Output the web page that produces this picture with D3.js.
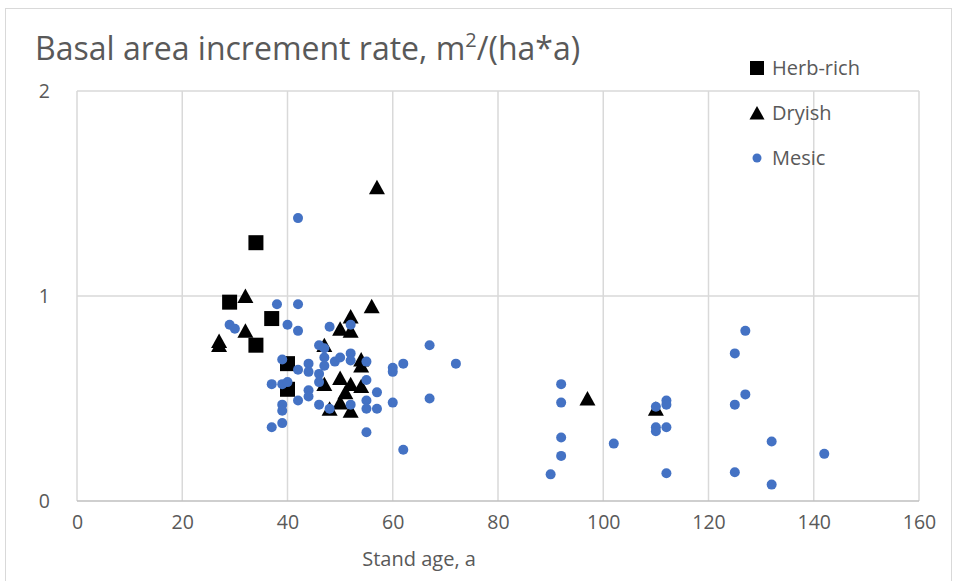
<!DOCTYPE html>
<html>
<head>
<meta charset="utf-8">
<script src="https://cdn.jsdelivr.net/npm/d3@7"></script>
<style>
  body { margin: 0; background: #fff; }
  text { font-family: "Open Sans", sans-serif; fill: #595959; }
</style>
</head>
<body>
<div id="canvas"></div>
<script>
// stand age (a) and basal area increment (m2/(ha*a)) per site type
const herbAge = [29, 34, 37, 34, 40, 40];
const herbRate = [0.97, 1.26, 0.89, 0.76, 0.67, 0.545];

const dryAge = [27, 27, 32, 32, 47, 47, 50, 52, 52, 56, 54, 54, 57, 50, 52, 54, 51, 50, 48, 52, 97, 110];
const dryRate = [0.78, 0.76, 1.00, 0.83, 0.76, 0.57, 0.84, 0.90, 0.83, 0.95, 0.69, 0.66, 1.53, 0.60, 0.57, 0.56, 0.53, 0.48, 0.45, 0.44, 0.50, 0.45];

const mesicAge = [42, 38, 42, 29, 30, 40, 42, 48, 52, 46, 47, 67, 72, 39, 44, 47, 47, 49, 50, 52, 52, 55, 60, 60, 62,
    37, 39, 40, 42, 44, 46, 46, 55, 57, 44, 44, 42, 46, 48, 52, 55, 55, 57, 60, 67, 39, 39, 37, 39, 55, 62,
    92, 92, 92, 92, 90, 102, 110, 112, 112, 110, 110, 112, 112, 127, 125, 127, 125, 132, 125, 132, 142];
const mesicRate = [1.38, 0.96, 0.96, 0.86, 0.84, 0.86, 0.83, 0.85, 0.86, 0.76, 0.745, 0.76, 0.67, 0.69, 0.67, 0.70, 0.66, 0.68, 0.70, 0.72, 0.685, 0.68, 0.65, 0.63, 0.67,
    0.57, 0.57, 0.58, 0.64, 0.63, 0.62, 0.58, 0.59, 0.53, 0.54, 0.51, 0.49, 0.47, 0.45, 0.47, 0.49, 0.45, 0.45, 0.48, 0.50, 0.47, 0.44, 0.36, 0.38, 0.335, 0.25,
    0.57, 0.48, 0.31, 0.22, 0.13, 0.28, 0.46, 0.49, 0.47, 0.36, 0.34, 0.36, 0.135, 0.83, 0.72, 0.52, 0.47, 0.29, 0.14, 0.08, 0.23];

const xTicks = [0, 20, 40, 60, 80, 100, 120, 140, 160];
const yTicks = [0, 1, 2];
const seriesNames = ["Herb-rich", "Dryish", "Mesic"];

const width = 957;
const height = 581;
const margin = { top: 91, left: 77, bottom: 80, right: 38 };
const iwidth = width - margin.left - margin.right;
const iheight = height - margin.top - margin.bottom;

const svg = d3.select("#canvas").append("svg")
    .attr("width", width)
    .attr("height", height);

// chart frame
svg.append("rect")
    .attr("x", 5.5).attr("y", 8.5)
    .attr("width", 946).attr("height", 590)
    .attr("fill", "none")
    .attr("stroke", "#d9d9d9");

const g = svg.append("g").attr("transform", `translate(${margin.left},${margin.top})`);

const x = d3.scaleLinear().domain([0, 160]).range([0, iwidth]);
const y = d3.scaleLinear().domain([0, 2]).range([iheight, 0]);

// gridlines
g.selectAll(".vgrid").data(xTicks).enter().append("line")
    .attr("x1", d => x(d)).attr("x2", d => x(d))
    .attr("y1", 0).attr("y2", iheight)
    .attr("stroke", "#d9d9d9").attr("stroke-width", 1.5);
g.selectAll(".hgrid").data(yTicks).enter().append("line")
    .attr("x1", 0).attr("x2", iwidth)
    .attr("y1", d => y(d)).attr("y2", d => y(d))
    .attr("stroke", d => d === 0 ? "#bfbfbf" : "#d9d9d9").attr("stroke-width", 1.5);

// axes (labels only, Excel style)
const xAxis = g.append("g")
    .attr("transform", `translate(0,${iheight})`)
    .call(d3.axisBottom(x).tickValues(xTicks).tickSize(0).tickPadding(14));
const yAxis = g.append("g")
    .call(d3.axisLeft(y).tickValues(yTicks).tickFormat(d3.format("d")).tickSize(0).tickPadding(27));
[xAxis, yAxis].forEach(a => {
    a.select(".domain").remove();
    a.selectAll("text").attr("font-size", 19.5).attr("font-family", "Open Sans").attr("fill", "#595959");
});

svg.append("text")
    .attr("x", margin.left + x(65)).attr("y", 566)
    .attr("text-anchor", "middle")
    .attr("font-size", 20)
    .text("Stand age, a");

// title with superscript
const title = svg.append("text")
    .attr("x", 35).attr("y", 60)
    .attr("font-size", 32);
title.append("tspan").text("Basal area increment rate, m");
title.append("tspan").attr("font-size", 20).attr("dy", -13).text("2");
title.append("tspan").attr("dy", 13).text("/(ha*a)");

const tri = (cx, cy, s) => `M${cx},${cy - s * 0.47}L${cx + s / 2},${cy + s * 0.43}L${cx - s / 2},${cy + s * 0.43}Z`;

const herb = herbAge.map((a, i) => ({ age: a, rate: herbRate[i] }));
const dry = dryAge.map((a, i) => ({ age: a, rate: dryRate[i] }));
const mesic = mesicAge.map((a, i) => ({ age: a, rate: mesicRate[i] }));

g.selectAll(".herb").data(herb).enter().append("rect")
    .attr("x", d => x(d.age) - 7.5)
    .attr("y", d => y(d.rate) - 7.5)
    .attr("width", 15).attr("height", 15)
    .attr("fill", "#000");

g.selectAll(".dry").data(dry).enter().append("path")
    .attr("d", d => tri(x(d.age), y(d.rate), 16))
    .attr("fill", "#000");

g.selectAll(".mesic").data(mesic).enter().append("circle")
    .attr("cx", d => x(d.age))
    .attr("cy", d => y(d.rate))
    .attr("r", 5)
    .attr("fill", "#4472C4");

// legend
const legend = svg.append("g").attr("transform", "translate(757,68)");
const item = legend.selectAll("g").data(seriesNames).enter().append("g")
    .attr("transform", (d, i) => `translate(0,${i * 45})`);
item.each(function (d, i) {
    const s = d3.select(this);
    if (i === 0) s.append("rect").attr("x", -7).attr("y", -7).attr("width", 14).attr("height", 14).attr("fill", "#000");
    if (i === 1) s.append("path").attr("d", tri(0, 0, 15)).attr("fill", "#000");
    if (i === 2) s.append("circle").attr("r", 4.5).attr("fill", "#4472C4");
});
item.append("text")
    .attr("x", 15).attr("y", 0).attr("dy", "0.35em")
    .attr("font-size", 20)
    .text(d => d);
</script>
</body>
</html>
